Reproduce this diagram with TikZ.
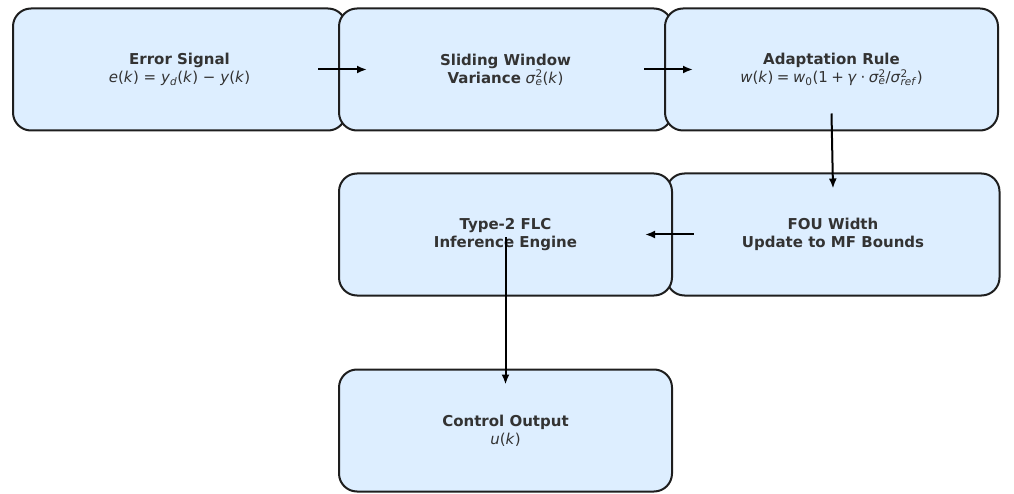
\documentclass[tikz,border=0pt]{standalone}
\usepackage{fontspec}
\setmainfont{DejaVu Sans}
\usepackage{tikz}
\usetikzlibrary{arrows.meta,positioning}
\definecolor{stagefill}{HTML}{DDEEFF}
\definecolor{stageline}{HTML}{1E1E1E}
\definecolor{stagetext}{HTML}{333333}
\newcommand{\vr}[1]{\textit{#1}}
\newcommand{\supsub}[2]{\rlap{\textsuperscript{#1}}\textsubscript{#2}}
\newcommand{\gap}{\hspace{3.5pt}}

\begin{document}
\begin{tikzpicture}[x=1pt, y=-1pt, node distance=41pt and -9pt,
		every node/.style={font=\fontsize{15pt}{18pt}\selectfont},
		stage/.style={draw=stageline, line width=2pt, fill=stagefill, rounded corners=18pt,
			minimum width=333pt, minimum height=122pt, align=center, text=stagetext},
		flow/.style={-{Latex[length=10pt, width=8pt]}, line width=2pt, black}]
			\useasboundingbox (0,0) rectangle (1014,494);
			\node[stage] (err) at (179.5,69.5) {\textbf{Error Signal}\\\vr{e}(\vr{k}) = \vr{y}\textsubscript{\vr{d}}(\vr{k}) − \vr{y}(\vr{k})};
			\node[stage, right=of err] (var) {\textbf{Sliding Window}\\\textbf{Variance} \vr{σ}\supsub{2}{\vr{e}}(\vr{k})};
			\node[stage, right=of var] (adapt) {\textbf{Adaptation Rule}\\\vr{w}(\vr{k})\gap=\gap\vr{w}\textsubscript{0}(1\gap+\gap\vr{γ}\gap·\gap\vr{σ}\supsub{2}{\vr{e}}/\vr{σ}\supsub{2}{\vr{ref}})};
			\node[stage, below=of adapt, xshift=1.5pt] (fou) {\textbf{FOU Width}\\\textbf{Update to MF Bounds}};
			\node[stage, below=of var] (flc) {\textbf{Type-2 FLC}\\\textbf{Inference Engine}};
			\node[stage, below=72pt of flc] (out) {\textbf{Control Output}\\\vr{u}(\vr{k})};
			
			\draw[flow] ([xshift=-29pt]err.east) -- ([xshift=29pt]var.west);
			\draw[flow] ([xshift=-29pt]var.east) -- ([xshift=29pt]adapt.west);
			\draw[flow] ([yshift=18pt]adapt.south) -- ([yshift=-16pt]fou.north);
			\draw[flow] ([xshift=28pt]fou.west) -- ([xshift=-28pt]flc.east);
			\draw[flow] ([yshift=-3pt]flc.center) -- ([yshift=-16pt]out.north);
		\end{tikzpicture}
\end{document}
